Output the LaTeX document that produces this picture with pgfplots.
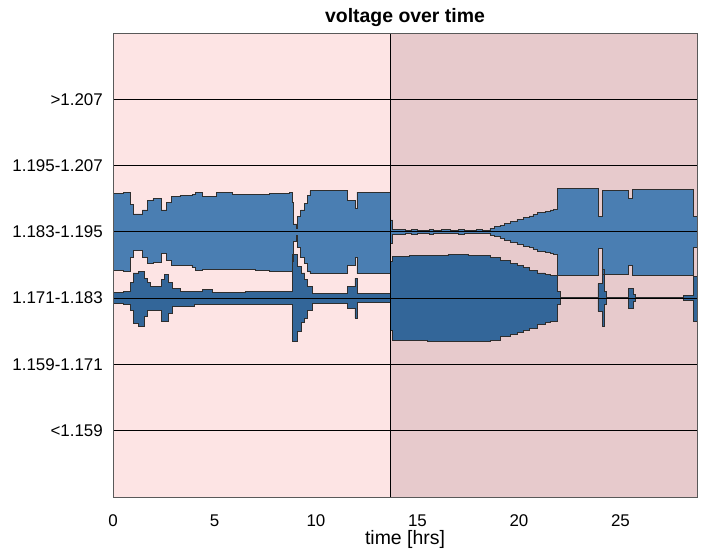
\documentclass[border=0pt]{standalone}
\usepackage{fontspec}
\setmainfont{Liberation Sans}
\usepackage{pgfplots}
\usepackage{pgfplotstable}
\pgfplotsset{compat=1.18}
\usepgfplotslibrary{fillbetween}

\definecolor{bgA}{HTML}{FDE4E4}
\definecolor{bgB}{HTML}{E7CACC}
\definecolor{vlight}{HTML}{4A7EB2}
\definecolor{vdark}{HTML}{336699}
\definecolor{edge}{HTML}{2E2E2E}

% 1.183-1.195 band: half widths above (up) and below (lo) the category line
\pgfplotstableread{
t up lo
0.00 0.58 0.58
0.50 0.60 0.59
0.84 0.41 0.38
0.99 0.27 0.28
1.45 0.33 0.38
1.70 0.48 0.48
1.97 0.50 0.46
2.40 0.33 0.33
2.65 0.45 0.43
2.90 0.53 0.51
3.30 0.55 0.51
3.89 0.56 0.54
4.04 0.60 0.58
4.38 0.54 0.57
5.10 0.60 0.57
5.90 0.56 0.57
7.00 0.57 0.58
7.70 0.58 0.59
8.70 0.60 0.60
8.82 0.45 0.45
8.90 0.12 0.14
9.05 0.05 0.05
9.10 0.23 0.23
9.25 0.33 0.38
9.45 0.43 0.48
9.60 0.55 0.60
9.70 0.62 0.63
11.53 0.48 0.50
11.92 0.35 0.38
12.02 0.60 0.63
13.65 0.18 0.18
13.78 0.035 0.035
14.40 0.025 0.025
14.70 0.035 0.035
15.00 0.02 0.02
15.60 0.035 0.035
15.80 0.02 0.02
16.20 0.03 0.03
16.60 0.02 0.02
17.00 0.035 0.035
17.30 0.02 0.02
17.90 0.03 0.03
18.20 0.02 0.02
18.57 0.05 0.05
18.80 0.075 0.075
19.06 0.10 0.10
19.30 0.125 0.125
19.56 0.16 0.16
19.90 0.19 0.19
20.20 0.22 0.22
20.50 0.24 0.24
20.69 0.26 0.26
20.89 0.29 0.29
21.28 0.31 0.31
21.53 0.33 0.33
21.72 0.34 0.34
21.88 0.65 0.65
23.92 0.23 0.25
24.10 0.63 0.64
25.40 0.50 0.50
25.58 0.64 0.65
28.57 0.23 0.23
28.77 0.23 0.23
}\sA

% 1.171-1.183 band
\pgfplotstableread{
t up lo
0.00 0.08 0.08
0.50 0.10 0.10
0.84 0.23 0.18
0.99 0.38 0.38
1.25 0.40 0.43
1.55 0.30 0.28
1.70 0.23 0.18
1.85 0.17 0.18
2.40 0.28 0.35
2.55 0.36 0.35
2.75 0.23 0.23
2.95 0.15 0.12
3.30 0.10 0.12
4.00 0.10 0.09
4.40 0.13 0.09
4.90 0.09 0.09
6.50 0.10 0.10
8.85 0.66 0.65
9.10 0.48 0.50
9.30 0.38 0.37
9.45 0.28 0.30
9.60 0.17 0.18
9.80 0.07 0.08
11.53 0.17 0.15
11.92 0.30 0.30
12.02 0.07 0.07
13.65 0.55 0.48
13.78 0.63 0.63
14.60 0.64 0.64
15.50 0.65 0.65
16.50 0.66 0.65
17.50 0.65 0.65
18.57 0.62 0.63
19.06 0.57 0.58
19.56 0.53 0.55
19.90 0.49 0.51
20.20 0.46 0.48
20.50 0.42 0.45
20.89 0.38 0.40
21.28 0.36 0.37
21.53 0.34 0.35
21.87 0.10 0.10
22.02 0.008 0.008
23.89 0.22 0.20
24.09 0.43 0.43
24.19 0.10 0.10
24.33 0.008 0.008
25.40 0.15 0.15
25.62 0.05 0.05
25.72 0.008 0.008
28.08 0.04 0.04
28.60 0.33 0.35
28.77 0.33 0.35
}\sB

\begin{document}
\begin{tikzpicture}
\begin{axis}[
  name=ax,
  set layers=axis on top,
  width=584bp, height=464bp, scale only axis,
  xmin=0, xmax=28.77, ymin=-1, ymax=6,
  xtick={0,5,...,25}, ytick={0,...,5},
  yticklabels={{<1.159},{1.159-1.171},{1.171-1.183},{1.183-1.195},{1.195-1.207},{>1.207}},
  ymajorgrids, grid style={black, line width=1bp},
  major tick length=0pt,
  axis on top,
  axis line style={gray!70!black, line width=0.8bp},
  /pgf/number format/assume math mode=true,
  tick label style={font=\fontsize{17}{20}\selectfont, inner sep=0pt},
  xticklabel style={anchor=base, yshift=-29bp},
  yticklabel style={anchor=east, xshift=-10bp},
  title={voltage over time},
  title style={font=\bfseries\fontsize{19.5}{22}\selectfont, at={(0.5,1)}, anchor=base, yshift=5bp, inner sep=0pt},
  xlabel={time [hrs]},
  xlabel style={font=\fontsize{19.5}{22}\selectfont, at={(0.5,0)}, anchor=base, yshift=-47bp, inner sep=0pt},
]
\begin{pgfonlayer}{axis background}
\fill[bgA] (axis cs:0,-1) rectangle (axis cs:13.65,6);
\fill[bgB] (axis cs:13.65,-1) rectangle (axis cs:28.77,6);
\end{pgfonlayer}

\addplot[const plot, draw=none, name path=au] table[x=t, y expr=3+\thisrow{up}] {\sA};
\addplot[const plot, draw=none, name path=al] table[x=t, y expr=3-\thisrow{lo}] {\sA};
\addplot[vlight] fill between[of=au and al];
\addplot[const plot, edge, line width=0.8bp] table[x=t, y expr=3+\thisrow{up}] {\sA};
\addplot[const plot, edge, line width=0.8bp] table[x=t, y expr=3-\thisrow{lo}] {\sA};

\addplot[const plot, draw=none, name path=bu] table[x=t, y expr=2+\thisrow{up}] {\sB};
\addplot[const plot, draw=none, name path=bl] table[x=t, y expr=2-\thisrow{lo}] {\sB};
\addplot[vdark] fill between[of=bu and bl];
\addplot[const plot, edge, line width=0.8bp] table[x=t, y expr=2+\thisrow{up}] {\sB};
\addplot[const plot, edge, line width=0.8bp] table[x=t, y expr=2-\thisrow{lo}] {\sB};

\draw[black, line width=1bp] (axis cs:13.65,-1) -- (axis cs:13.65,6);
\end{axis}
\pgfresetboundingbox
\path (ax.south west) ++(-113bp,-57bp) rectangle ++(705bp,554bp);
\end{tikzpicture}
\end{document}
